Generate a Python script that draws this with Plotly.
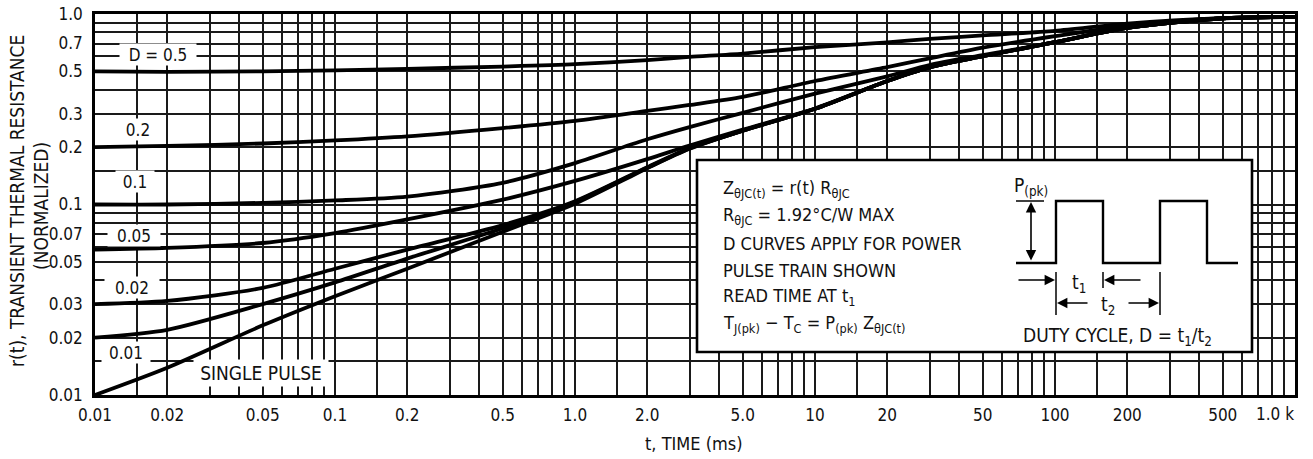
import plotly.graph_objects as go

# ---------------- data ----------------
t_ms = [0.01, 0.02, 0.05, 0.1, 0.2, 0.5, 1, 2, 3, 5, 10, 20, 30, 50, 100, 200, 500, 1000]

r_d050 = [0.50, 0.497, 0.50, 0.506, 0.515, 0.530, 0.545, 0.573, 0.595, 0.62, 0.67, 0.71, 0.74, 0.772, 0.815, 0.89, 0.95, 0.965]
r_d020 = [0.20, 0.203, 0.209, 0.217, 0.228, 0.252, 0.275, 0.31, 0.333, 0.367, 0.445, 0.526, 0.585, 0.666, 0.765, 0.865, 0.95, 0.965]
r_d010 = [0.10, 0.10, 0.102, 0.105, 0.11, 0.13, 0.165, 0.22, 0.255, 0.303, 0.382, 0.471, 0.54, 0.609, 0.711, 0.845, 0.95, 0.965]
r_d005 = [0.058, 0.0592, 0.0628, 0.0708, 0.0835, 0.106, 0.133, 0.173, 0.204, 0.247, 0.319, 0.445, 0.525, 0.60, 0.711, 0.845, 0.95, 0.965]
r_d002 = [0.030, 0.0312, 0.0365, 0.046, 0.058, 0.078, 0.104, 0.157, 0.198, 0.244, 0.318, 0.445, 0.525, 0.60, 0.711, 0.845, 0.95, 0.965]
r_d001 = [0.020, 0.022, 0.030, 0.039, 0.052, 0.075, 0.103, 0.156, 0.197, 0.244, 0.318, 0.445, 0.525, 0.60, 0.711, 0.845, 0.95, 0.965]
r_single = [0.010, 0.0139, 0.0232, 0.033, 0.046, 0.072, 0.101, 0.155, 0.196, 0.244, 0.318, 0.445, 0.525, 0.60, 0.711, 0.845, 0.95, 0.965]

series = [r_d050, r_d020, r_d010, r_d005, r_d002, r_d001, r_single]
series_names = ["D = 0.5", "0.2", "0.1", "0.05", "0.02", "0.01", "SINGLE PULSE"]

x_tick_vals = [0.01, 0.02, 0.05, 0.1, 0.2, 0.5, 1, 2, 5, 10, 20, 50, 100, 200, 500, 1000]
x_tick_text = ["0.01", "0.02", "0.05", "0.1", "0.2", "0.5", "1.0", "2.0", "5.0", "10", "20", "50", "100", "200", "500", ""]
y_tick_vals = [0.01, 0.02, 0.03, 0.05, 0.07, 0.1, 0.2, 0.3, 0.5, 0.7, 1.0]
y_tick_text = ["0.01", "0.02", "0.03", "0.05", "0.07", "0.1", "0.2", "0.3", "0.5", "0.7", "1.0"]

grid_mult = [1, 1.5, 2, 3, 4, 5, 6, 7, 8, 9]
x_decades = [0.01, 0.1, 1, 10, 100]
y_decades = [0.01, 0.1]
x_grid = [round(m * d, 6) for d in x_decades for m in grid_mult] + [1000]
y_grid = [round(m * d, 6) for d in y_decades for m in grid_mult] + [1.0]

# ---------------- layout helpers ----------------
W, H = 1313, 459
ML, MR, MT, MB = 95, 18, 14, 64
PW, PH = W - ML - MR, H - MT - MB

def X(px):
    return (px - ML) / PW

def Y(py):
    return (H - MB - py) / PH

FONT = "DejaVu Sans Condensed, Liberation Sans Narrow, sans-serif"
INK = "#111111"
GRID = "#1a1a1a"

fig = go.Figure()
for vals, name in zip(series, series_names):
    fig.add_trace(go.Scatter(
        x=t_ms, y=vals, mode="lines", name=name,
        line=dict(color="black", width=3.8, shape="spline", smoothing=0.75),
        showlegend=False, hoverinfo="skip",
    ))

axis_common = dict(
    type="log", showline=True, linecolor="black", linewidth=2.6, mirror=True,
    showgrid=True, gridcolor=GRID, gridwidth=1.5, zeroline=False,
    ticks="", tickfont=dict(family=FONT, size=17, color=INK),
)

fig.update_xaxes(
    **axis_common, range=[-2, 3], tickmode="array",
    tickvals=x_tick_vals, ticktext=x_tick_text, ticklabelstandoff=3,
    minor=dict(tickvals=x_grid, showgrid=True, gridcolor=GRID, gridwidth=1.5, ticks=""),
)
fig.update_yaxes(
    **axis_common, range=[-2, 0], tickmode="array",
    tickvals=y_tick_vals, ticktext=y_tick_text, ticklabelstandoff=6,
    minor=dict(tickvals=y_grid, showgrid=True, gridcolor=GRID, gridwidth=1.5, ticks=""),
)

annotations = []

# curve labels with white boxes
curve_labels = [
    ("D = 0.5", 158, 55, 76, 21, 17),
    ("0.2", 138, 129, 40, 21, 17),
    ("0.1", 135, 181, 38, 21, 17),
    ("0.05", 134, 235, 52, 21, 17),
    ("0.02", 132, 287, 54, 21, 17),
    ("0.01", 126, 352, 48, 21, 17),
    ("SINGLE PULSE", 261, 373, 134, 26, 19),
]
for txt, cx, cy, bw, bh, fs in curve_labels:
    annotations.append(dict(
        text=txt, xref="paper", yref="paper", x=X(cx), y=Y(cy),
        xanchor="center", yanchor="middle", showarrow=False,
        font=dict(family=FONT, size=fs, color=INK),
        bgcolor="white", width=bw, height=bh, borderpad=0,
    ))

# axis titles
annotations.append(dict(
    text="t, TIME (ms)", xref="paper", yref="paper", x=X(694), y=Y(443),
    xanchor="center", yanchor="middle", showarrow=False,
    font=dict(family=FONT, size=18, color=INK),
))
annotations.append(dict(
    text="r(t), TRANSIENT THERMAL RESISTANCE", xref="paper", yref="paper",
    x=X(17), y=Y(201), xanchor="center", yanchor="middle", showarrow=False,
    textangle=-90, font=dict(family=FONT, size=19, color=INK),
))
annotations.append(dict(
    text="(NORMALIZED)", xref="paper", yref="paper",
    x=X(41), y=Y(206), xanchor="center", yanchor="middle", showarrow=False,
    textangle=-90, font=dict(family=FONT, size=19, color=INK),
))
annotations.append(dict(
    text="1.0 k", xref="paper", yref="paper", x=X(1296), y=Y(414),
    xanchor="right", yanchor="middle", showarrow=False,
    font=dict(family=FONT, size=17, color=INK),
))

# info box text
box_lines = [
    ("Z<sub>θJC(t)</sub> = r(t) R<sub>θJC</sub>", 189),
    ("R<sub>θJC</sub> = 1.92°C/W MAX", 216),
    ("D CURVES APPLY FOR POWER", 243),
    ("PULSE TRAIN SHOWN", 270),
    ("READ TIME AT t<sub>1</sub>", 297),
    ("T<sub>J(pk)</sub> − T<sub>C</sub> = P<sub>(pk)</sub> Z<sub>θJC(t)</sub>", 324),
]
for txt, cy in box_lines:
    annotations.append(dict(
        text=txt, xref="paper", yref="paper", x=X(721), y=Y(cy),
        xanchor="left", yanchor="middle", showarrow=False,
        font=dict(family=FONT, size=18, color=INK),
    ))

diagram_text = [
    ("P<sub>(pk)</sub>", 1031, 186),
    ("t<sub>1</sub>", 1079, 283),
    ("t<sub>2</sub>", 1108, 305),
    ("DUTY CYCLE, D = t<sub>1</sub>/t<sub>2</sub>", 1117, 336),
]
for txt, cx, cy in diagram_text:
    annotations.append(dict(
        text=txt, xref="paper", yref="paper", x=X(cx), y=Y(cy),
        xanchor="center", yanchor="middle", showarrow=False,
        font=dict(family=FONT, size=19, color=INK),
    ))

# arrows (head position, tail offset in px)
arrow_specs = [
    (1031, 202, 0, 60, "end+start"),
    (1055, 280, -38, 0, "end"),
    (1104, 280, 38, 0, "end"),
    (1057, 303, 32, 0, "end"),
    (1159, 303, -32, 0, "end"),
]
for hx, hy, axo, ayo, side in arrow_specs:
    annotations.append(dict(
        text="", xref="paper", yref="paper", x=X(hx), y=Y(hy),
        ax=axo, ay=ayo, showarrow=True, arrowhead=2, arrowsize=1.3,
        arrowwidth=1.6, arrowcolor="black", arrowside=side, standoff=0, startstandoff=0,
    ))

shapes = []
# info box
shapes.append(dict(
    type="rect", xref="paper", yref="paper",
    x0=X(697), x1=X(1252), y0=Y(352), y1=Y(160),
    fillcolor="white", line=dict(color="black", width=2.6), layer="above",
))
# pulse train
pts = [(1016, 263), (1056, 263), (1056, 201), (1103, 201), (1103, 263),
       (1160, 263), (1160, 201), (1207, 201), (1207, 263), (1238, 263)]
path = "M " + " L ".join(f"{X(a):.5f},{Y(b):.5f}" for a, b in pts)
shapes.append(dict(type="path", xref="paper", yref="paper", path=path,
                   line=dict(color="black", width=2.4), layer="above"))
# P(pk) top tick and extension lines
seg = [((1016, 201), (1044, 201)), ((1056, 272), (1056, 315)),
       ((1103, 272), (1103, 288)), ((1160, 272), (1160, 315))]
for (a, b), (c, d) in seg:
    shapes.append(dict(type="line", xref="paper", yref="paper",
                       x0=X(a), y0=Y(b), x1=X(c), y1=Y(d),
                       line=dict(color="black", width=1.5), layer="above"))

fig.update_layout(
    width=W, height=H, margin=dict(l=ML, r=MR, t=MT, b=MB, autoexpand=False),
    paper_bgcolor="white", plot_bgcolor="white",
    annotations=annotations, shapes=shapes,
    font=dict(family=FONT, color=INK),
)

fig.write_html(
    "out.html",
    config={"displayModeBar": False},
    post_script="document.body.style.margin='0';document.body.style.overflow='hidden';",
)
